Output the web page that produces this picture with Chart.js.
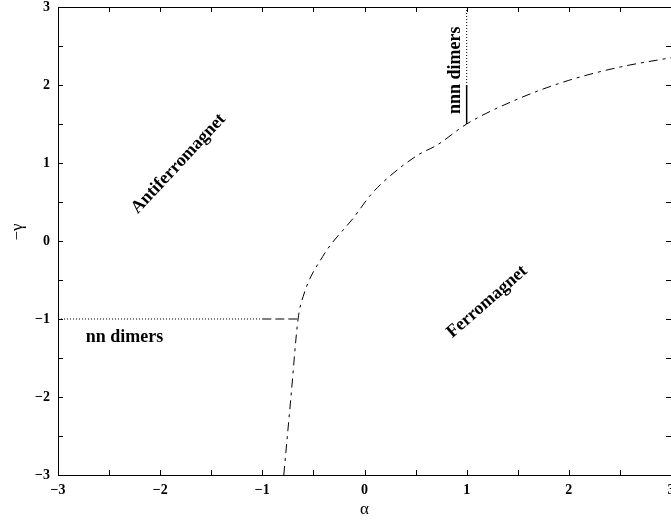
<!DOCTYPE html>
<html><head><meta charset="utf-8">
<script src="https://cdn.jsdelivr.net/npm/chart.js@4"></script>
<style>html,body{margin:0;padding:0;background:#fff}#wrap{width:671px;height:524px}</style>
</head><body><div id="wrap"><canvas id="c" width="671" height="524"></canvas></div>
<script>
// Phase boundary (dash-dot)
const boundaryAlpha = [-0.79, -0.72, -0.65, -0.60, -0.41, -0.10, 0.06, 0.22, 0.52, 0.71, 1.0, 1.5, 2.0, 2.5, 3.0];
const boundaryGamma = [-3, -2, -1, -0.71, -0.20, 0.31, 0.59, 0.80, 1.10, 1.23, 1.50, 1.82, 2.06, 2.23, 2.35];
// nn dimers line at -gamma = -1
const nnDottedAlpha = [-3, -1];
const nnDottedGamma = [-1, -1];
const nnDashAlpha = [-1, -0.65];
const nnDashGamma = [-1, -1];
// nnn dimers line at alpha = 1
const nnnDottedAlpha = [1, 1];
const nnnDottedGamma = [3, 2];
const nnnSolidAlpha = [1, 1];
const nnnSolidGamma = [2, 1.5];
// Region labels
const labelTexts = ["Antiferromagnet", "Ferromagnet", "nn dimers", "nnn dimers"];
const labelAlpha = [-1.82, 1.20, -2.35, 0.89];
const labelGamma = [0.99, -0.78, -1.24, 2.19];
const labelAngle = [-47, -41, 0, -90];
// Axis ticks
const tickValues = [-3, -2.5, -2, -1.5, -1, -0.5, 0, 0.5, 1, 1.5, 2, 2.5, 3];
const xTitle = "α";
const yTitle = "−γ";

const pts = (xs, ys) => xs.map((x, i) => ({x, y: ys[i]}));
const fmt = v => Number.isInteger(v) ? (v < 0 ? "−" + Math.abs(v) : String(v)) : "";

const serif = "'Liberation Serif', 'DejaVu Serif', serif";
const tickFont = {family: serif, size: 14, weight: 'bold'};

const framePlugin = {
  id: 'frame',
  afterDatasetsDraw(chart) {
    const {ctx, chartArea: a, scales: {x, y}} = chart;
    ctx.save();
    ctx.strokeStyle = '#000';
    ctx.lineWidth = 1;
    ctx.setLineDash([]);
    ctx.beginPath();
    ctx.moveTo(a.left + 0.5, a.top + 0.5); ctx.lineTo(a.right + 0.5, a.top + 0.5);
    ctx.lineTo(a.right + 0.5, a.bottom + 0.5); ctx.lineTo(a.left + 0.5, a.bottom + 0.5);
    ctx.closePath();
    const L = 5;
    tickValues.forEach(v => {
      const px = Math.round(x.getPixelForValue(v)) + 0.5;
      ctx.moveTo(px, a.bottom); ctx.lineTo(px, a.bottom - L);
      ctx.moveTo(px, a.top); ctx.lineTo(px, a.top + L);
      const py = Math.round(y.getPixelForValue(v)) + 0.5;
      ctx.moveTo(a.left, py); ctx.lineTo(a.left + L, py);
      ctx.moveTo(a.right, py); ctx.lineTo(a.right - L, py);
    });
    ctx.stroke();
    // region labels
    ctx.fillStyle = '#000';
    ctx.font = "bold 18px " + serif;
    ctx.textAlign = 'center';
    ctx.textBaseline = 'middle';
    labelTexts.forEach((t, i) => {
      ctx.save();
      ctx.translate(x.getPixelForValue(labelAlpha[i]), y.getPixelForValue(labelGamma[i]));
      ctx.rotate(labelAngle[i] * Math.PI / 180);
      ctx.fillText(t, 0, 0);
      ctx.restore();
    });
    // axis titles
    ctx.font = "17px " + serif;
    ctx.fillText(xTitle, x.getPixelForValue(0), 510);
    ctx.save();
    ctx.translate(18, 232);
    ctx.rotate(-Math.PI / 2);
    ctx.fillText(yTitle, 0, 0);
    ctx.restore();
    ctx.restore();
  }
};

const common = {showLine: true, pointRadius: 0, borderColor: '#000', borderWidth: 1, fill: false};

new Chart(document.getElementById('c'), {
  type: 'scatter',
  data: {
    datasets: [
      {...common, data: pts(boundaryAlpha, boundaryGamma), borderDash: [9, 5, 3, 5], cubicInterpolationMode: 'monotone'},
      {...common, data: pts(nnDottedAlpha, nnDottedGamma), borderDash: [1, 2]},
      {...common, data: pts(nnDashAlpha, nnDashGamma), borderDash: [9, 4]},
      {...common, data: pts(nnnDottedAlpha, nnnDottedGamma), borderDash: [1, 2]},
      {...common, data: pts(nnnSolidAlpha, nnnSolidGamma), borderWidth: 1.5}
    ]
  },
  options: {
    responsive: false,
    animation: false,
    devicePixelRatio: 1,
    layout: {padding: {top: 7, right: 0, left: 0, bottom: 0}},
    plugins: {legend: {display: false}, tooltip: {enabled: false}},
    scales: {
      x: {
        type: 'linear', min: -3, max: 3,
        afterFit: s => { s.height = 49; s.paddingRight = 0; s.paddingLeft = 0; },
        grid: {display: false, drawTicks: false},
        border: {display: false},
        ticks: {stepSize: 0.5, autoSkip: false, maxRotation: 0, padding: 7, color: '#000', font: tickFont, callback: v => fmt(v)},
        title: {display: false, text: xTitle}
      },
      y: {
        type: 'linear', min: -3, max: 3,
        afterFit: s => { s.width = 58; s.paddingTop = 0; s.paddingBottom = 0; },
        grid: {display: false, drawTicks: false},
        border: {display: false},
        ticks: {stepSize: 0.5, autoSkip: false, padding: 8, color: '#000', font: tickFont, callback: v => fmt(v)},
        title: {display: false, text: yTitle}
      }
    }
  },
  plugins: [framePlugin]
});
</script></body></html>
